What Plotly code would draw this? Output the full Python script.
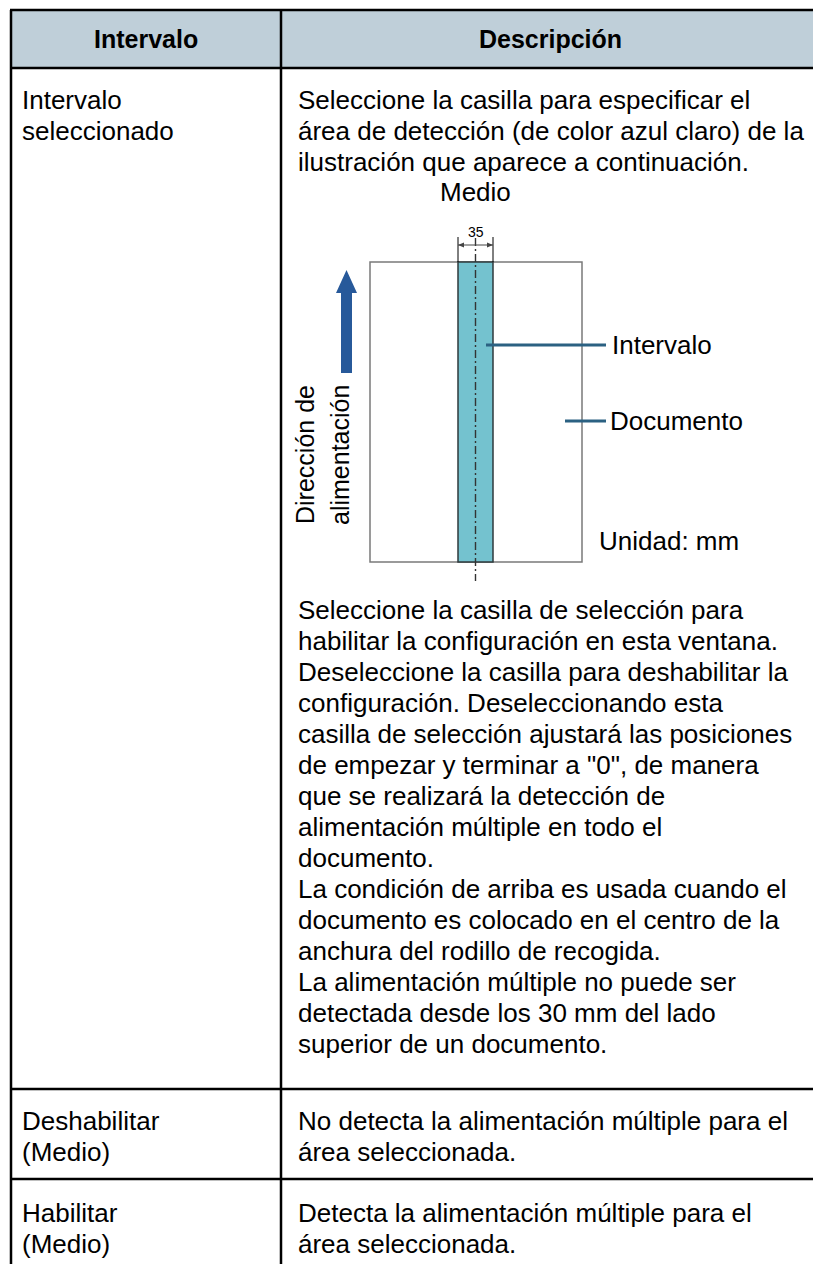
import plotly.graph_objects as go

W, H = 821, 1264
FONT = "Liberation Sans, Arial, sans-serif"
FS = 26

headers = ["Intervalo", "Descripción"]
row_labels = [["Intervalo", "seleccionado"], ["Deshabilitar", "(Medio)"], ["Habilitar", "(Medio)"]]
intro_lines = ["Seleccione la casilla para especificar el",
               "área de detección (de color azul claro) de la",
               "ilustración que aparece a continuación."]
body_lines = ["Seleccione la casilla de selección para",
              "habilitar la configuración en esta ventana.",
              "Deseleccione la casilla para deshabilitar la",
              "configuración. Deseleccionando esta",
              "casilla de selección ajustará las posiciones",
              'de empezar y terminar a "0", de manera',
              "que se realizará la detección de",
              "alimentación múltiple en todo el",
              "documento.",
              "La condición de arriba es usada cuando el",
              "documento es colocado en el centro de la",
              "anchura del rodillo de recogida.",
              "La alimentación múltiple no puede ser",
              "detectada desde los 30 mm del lado",
              "superior de un documento."]
row2_desc = ["No detecta la alimentación múltiple para el", "área seleccionada."]
row3_desc = ["Detecta la alimentación múltiple para el", "área seleccionada."]
diagram_title = "Medio"
width_label = "35"
callouts = ["Intervalo", "Documento"]
direction_label = ["Dirección de", "alimentación"]
unit_label = "Unidad: mm"

# page body has an 8px margin: shift axis ranges so page pixel == data coord
OFF = 8

LEFT, DIV, RIGHT = 11, 281, 840
TOP, HEAD_B, R1_B, R2_B, BOT = 10, 68, 1089, 1179, 1300
LH = 31

shapes = []
ann = []

def line(x0, y0, x1, y1, color="black", w=2, dash=None):
    d = dict(type="line", x0=x0, y0=y0, x1=x1, y1=y1, xref="x", yref="y",
             line=dict(color=color, width=w))
    if dash:
        d["line"]["dash"] = dash
    shapes.append(d)

def text(x, y, s, anchor="left", size=FS, bold=False, angle=0, color="black"):
    ann.append(dict(x=x, y=y, xref="x", yref="y", text=f"<b>{s}</b>" if bold else s,
                    showarrow=False, xanchor=anchor, yanchor="middle", textangle=angle,
                    font=dict(family=FONT, size=size, color=color), borderpad=0))

# header fill
shapes.append(dict(type="rect", x0=LEFT, y0=TOP, x1=RIGHT, y1=HEAD_B, xref="x", yref="y",
                   fillcolor="#bfcfd9", line=dict(width=0), layer="below"))
# grid
for y in (TOP, HEAD_B, R1_B, R2_B):
    line(LEFT - 1, y, RIGHT, y, w=2.5)
line(LEFT, TOP, LEFT, BOT, w=2.5)
line(DIV, TOP, DIV, BOT, w=2.5)

text((LEFT + DIV) / 2, 39, headers[0], anchor="center", bold=True, size=25)
text((DIV + 819) / 2, 39, headers[1], anchor="center", bold=True, size=25)

LX, RX = 21, 297
for i, s in enumerate(row_labels[0]):
    text(LX, 100 + i * LH, s)
for i, s in enumerate(intro_lines):
    text(RX, 100 + i * LH, s)
for i, s in enumerate(body_lines):
    text(RX, 610 + i * LH, s)
for i, s in enumerate(row_labels[1]):
    text(LX, 1121 + i * LH, s)
for i, s in enumerate(row2_desc):
    text(RX, 1121 + i * LH, s)
for i, s in enumerate(row_labels[2]):
    text(LX, 1213 + i * LH, s)
for i, s in enumerate(row3_desc):
    text(RX, 1213 + i * LH, s)

# diagram
DX0, DX1, DY0, DY1 = 370, 582, 262, 562
SX0, SX1 = 458, 493
CX = (SX0 + SX1) / 2
text(CX, 192, diagram_title, anchor="center")
shapes.append(dict(type="rect", x0=DX0, y0=DY0, x1=DX1, y1=DY1, xref="x", yref="y",
                   fillcolor="white", line=dict(color="#7a7a7a", width=1.5)))
shapes.append(dict(type="rect", x0=SX0, y0=DY0, x1=SX1, y1=DY1, xref="x", yref="y",
                   fillcolor="#74c2cf", line=dict(color="#2f3a3d", width=1.5)))
line(CX, 238, CX, 581, color="#333333", w=1.4, dash="8px,3px,2px,3px")
# dimension
line(SX0, 237, SX0, DY0, w=1)
line(SX1, 237, SX1, DY0, w=1)
line(SX0, 245, SX1, 245, color="#444", w=1)
for xa, dx in ((SX0, 1), (SX1, -1)):
    shapes.append(dict(type="path", xref="x", yref="y",
                       path=f"M {xa},245 L {xa + dx * 6},242.5 L {xa + dx * 6},247.5 Z",
                       fillcolor="#444", line=dict(width=0)))
text(CX, 232, width_label, anchor="center", size=14)

# callouts
LEAD = "#2b6182"
line(486, 345, 606, 345, color=LEAD, w=3)
text(611, 345, callouts[0])
line(565, 421, 606, 421, color=LEAD, w=3)
text(609, 421, callouts[1])
text(598, 541, unit_label)

# arrow
AC = "#27599a"
shapes.append(dict(type="path", xref="x", yref="y",
                   path="M 341,373 L 341,293 L 336,293 L 346.5,270 L 357,293 L 352,293 L 352,373 Z",
                   fillcolor=AC, line=dict(width=0)))
text(305, 455, direction_label[0], anchor="center", angle=-90, size=25)
text(340, 455, direction_label[1], anchor="center", angle=-90, size=25)

fig = go.Figure()
fig.update_layout(
    width=W, height=H, margin=dict(l=0, r=0, t=0, b=0),
    paper_bgcolor="white", plot_bgcolor="white",
    xaxis=dict(range=[OFF, W + OFF], visible=False, fixedrange=True),
    yaxis=dict(range=[H + OFF, OFF], visible=False, fixedrange=True),
    shapes=shapes, annotations=ann, showlegend=False,
)
fig.write_html("out.html")
